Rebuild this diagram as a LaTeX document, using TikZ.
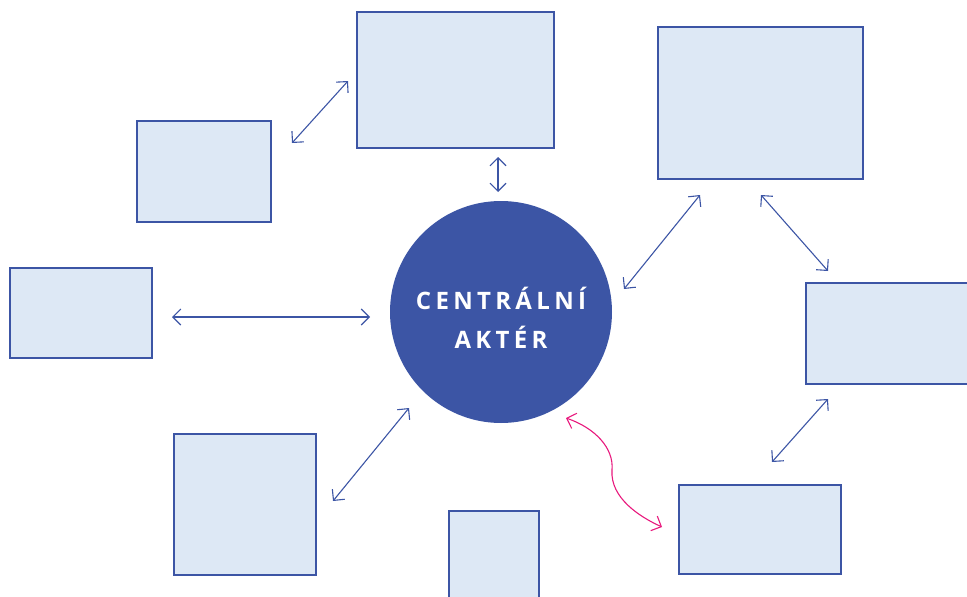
\documentclass[tikz,border=0pt]{standalone}
\usepackage{fontspec}
\setmainfont{Open Sans}
\newfontfamily\labelfont[LetterSpace=18]{Open Sans Bold}
\usetikzlibrary{arrows.meta}
\definecolor{navy}{HTML}{3C55A5}
\definecolor{boxfill}{HTML}{DDE8F5}
\definecolor{pinkc}{HTML}{E8197D}
\tikzset{
  actor/.style={draw=navy, fill=boxfill, line width=1.1pt, inner sep=0pt},
  link/.style={draw=navy, line width=1.1pt, {Straight Barb[length=8pt,width=16pt]}-{Straight Barb[length=8pt,width=16pt]}},
  plink/.style={draw=pinkc, line width=1.1pt, {Straight Barb[length=8pt,width=16pt]}-{Straight Barb[length=8pt,width=16pt]}},
}
\begin{document}
\begin{tikzpicture}[x=1pt,y=-1pt]
\useasboundingbox (0,0) rectangle (967,597);
\clip (0,0) rectangle (967,597);
% boxes
\draw[actor] (357,12) rectangle (554,148);
\draw[actor] (137,121) rectangle (271,222);
\draw[actor] (10,268) rectangle (152,358);
\draw[actor] (174,434) rectangle (316,575);
\draw[actor] (449,511) rectangle (539,610);
\draw[actor] (679,485) rectangle (841,574);
\draw[actor] (806,283) rectangle (980,384);
\draw[actor] (658,27) rectangle (863,179);
% central node
\node[circle, fill=navy, minimum size=222pt, inner sep=0pt] (c) at (501,312) {};
\node[text=white, align=center, inner sep=0pt,
      font=\labelfont\fontsize{24}{39}\selectfont] (ct) at (501,318) {CENTRÁLNÍ\\AKTÉR};
% connector end points
\coordinate (a1s) at (292,143); \coordinate (a1e) at (348,81);
\coordinate (a2s) at (498,157); \coordinate (a2e) at (498,192);
\coordinate (a3s) at (172,317); \coordinate (a3e) at (370,317);
\coordinate (a4s) at (333,501); \coordinate (a4e) at (409,408);
\coordinate (a5s) at (624,289); \coordinate (a5e) at (700,195);
\coordinate (a6s) at (761,195); \coordinate (a6e) at (828,271);
\coordinate (a7s) at (772,462); \coordinate (a7e) at (828,399);
\coordinate (p1) at (566,418); \coordinate (p2) at (612,470); \coordinate (p3) at (662,527);
\draw[link] (a1s) -- (a1e);
\draw[link] (a2s) -- (a2e);
\draw[link] (a3s) -- (a3e);
\draw[link] (a4s) -- (a4e);
\draw[link] (a5s) -- (a5e);
\draw[link] (a6s) -- (a6e);
\draw[link] (a7s) -- (a7e);
\draw[plink] (p1) .. controls (595,428) and (614,448) .. (p2) .. controls (610,498) and (640,517) .. (p3);
\end{tikzpicture}
\end{document}
